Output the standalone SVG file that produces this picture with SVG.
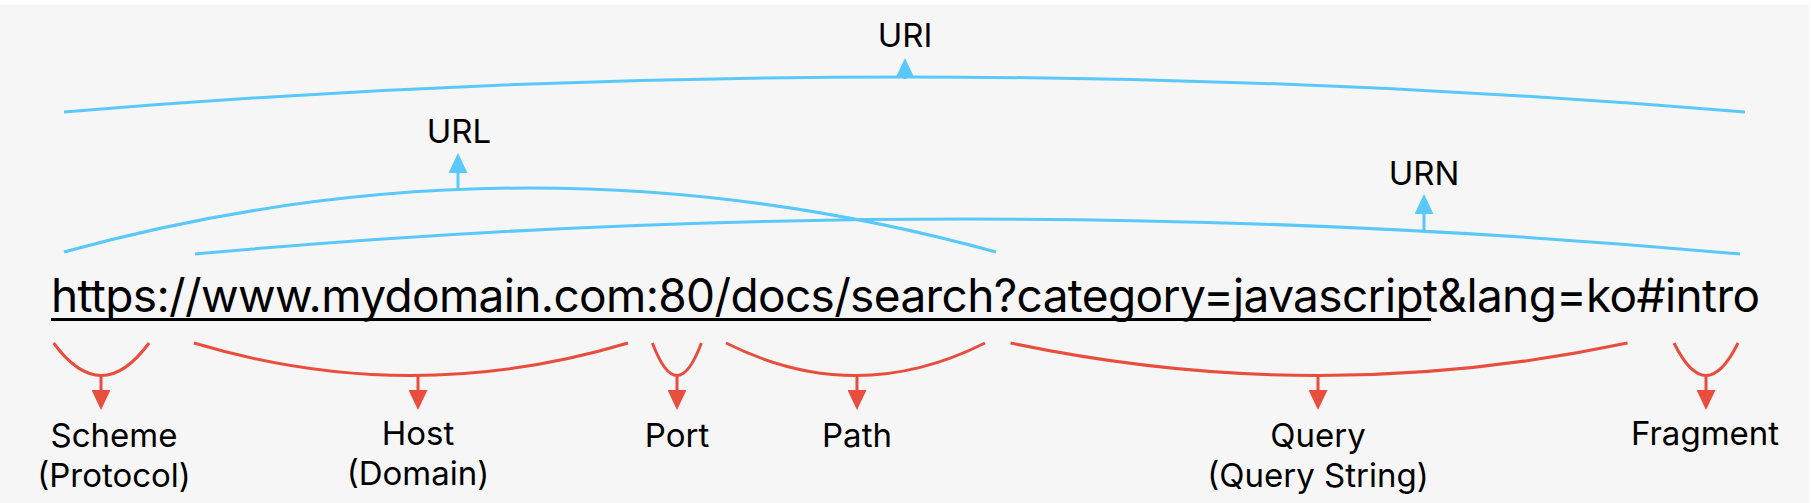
<svg xmlns="http://www.w3.org/2000/svg" width="1811" height="503" viewBox="0 0 1811 503">
  <style>
    .lbl { font-family: Inter, "Noto Sans", "DejaVu Sans", sans-serif; font-size: 33px; fill: #000; text-anchor: middle; }
    .url { font-family: Inter, "Noto Sans", "DejaVu Sans", sans-serif; font-size: 46px; fill: #000; }
    .blue { fill: none; stroke: #5AC8FA; stroke-width: 3; }
    .red { fill: none; stroke: #E84D3D; stroke-width: 3; }
    .bstem { stroke: #5AC8FA; stroke-width: 3; marker-end: url(#headBlue); }
    .rstem { stroke: #E84D3D; stroke-width: 3; marker-end: url(#headRed); }
  </style>
  <defs>
    <marker id="headBlue" viewBox="0 0 20 19" refX="0" refY="9.5" markerWidth="20" markerHeight="19" orient="auto" markerUnits="userSpaceOnUse">
      <path d="M0,0 L20,9.5 L0,19 Z" fill="#5AC8FA"/>
    </marker>
    <marker id="headRed" viewBox="0 0 20 19" refX="0" refY="9.5" markerWidth="20" markerHeight="19" orient="auto" markerUnits="userSpaceOnUse">
      <path d="M0,0 L20,9.5 L0,19 Z" fill="#E84D3D"/>
    </marker>
  </defs>

  <rect x="0" y="0" width="1811" height="503" fill="#ffffff"/>
  <rect x="0" y="5" width="1809" height="498" fill="#F6F6F6"/>

  <g id="connectors">
    <!-- URI -->
    <path class="blue" d="M64,112 Q905,42 1745,112"/>
    <line class="bstem" x1="905" y1="79" x2="905" y2="78"/>
    <!-- URL -->
    <path class="blue" d="M64,252 Q530,124 996,252"/>
    <line class="bstem" x1="458" y1="190" x2="458" y2="173"/>
    <!-- URN -->
    <path class="blue" d="M195,254 Q967,184 1740,254"/>
    <line class="bstem" x1="1424" y1="231" x2="1424" y2="214"/>

    <!-- Scheme -->
    <path class="red" d="M53.6,343 Q101.4,408 149,343"/>
    <line class="rstem" x1="101" y1="375" x2="101" y2="390"/>
    <!-- Host -->
    <path class="red" d="M194,343 Q411,408 628,343"/>
    <line class="rstem" x1="418" y1="375" x2="418" y2="390"/>
    <!-- Port -->
    <path class="red" d="M652.4,343 Q677,408 701.4,343"/>
    <line class="rstem" x1="677" y1="375" x2="677" y2="390"/>
    <!-- Path -->
    <path class="red" d="M726,343 Q855.5,408 985,343"/>
    <line class="rstem" x1="857" y1="375" x2="857" y2="390"/>
    <!-- Query -->
    <path class="red" d="M1010.6,343 Q1319,408 1627.5,343"/>
    <line class="rstem" x1="1318" y1="375" x2="1318" y2="390"/>
    <!-- Fragment -->
    <path class="red" d="M1674,343 Q1706,408 1738,343"/>
    <line class="rstem" x1="1706" y1="375" x2="1706" y2="390"/>
  </g>

  <g id="uri"><text class="lbl" x="905" y="47">URI</text></g>
  <g id="url-label"><text class="lbl" x="459" y="143">URL</text></g>
  <g id="urn"><text class="lbl" x="1424" y="185">URN</text></g>

  <g id="address">
    <text class="url" x="51" y="312" textLength="1709" lengthAdjust="spacing">https://www.mydomain.com:80/docs/search?category=javascript&amp;lang=ko#intro</text>
    <line x1="51" y1="319.5" x2="1431" y2="319.5" stroke="#000" stroke-width="3"/>
  </g>

  <g id="scheme"><text class="lbl" x="114" y="447">Scheme</text><text class="lbl" x="114" y="487">(Protocol)</text></g>
  <g id="host"><text class="lbl" x="418" y="445">Host</text><text class="lbl" x="418" y="485">(Domain)</text></g>
  <g id="port"><text class="lbl" x="677" y="447">Port</text></g>
  <g id="path"><text class="lbl" x="857" y="447">Path</text></g>
  <g id="query"><text class="lbl" x="1318" y="447">Query</text><text class="lbl" x="1318" y="487">(Query String)</text></g>
  <g id="fragment"><text class="lbl" x="1705" y="445">Fragment</text></g>
</svg>
